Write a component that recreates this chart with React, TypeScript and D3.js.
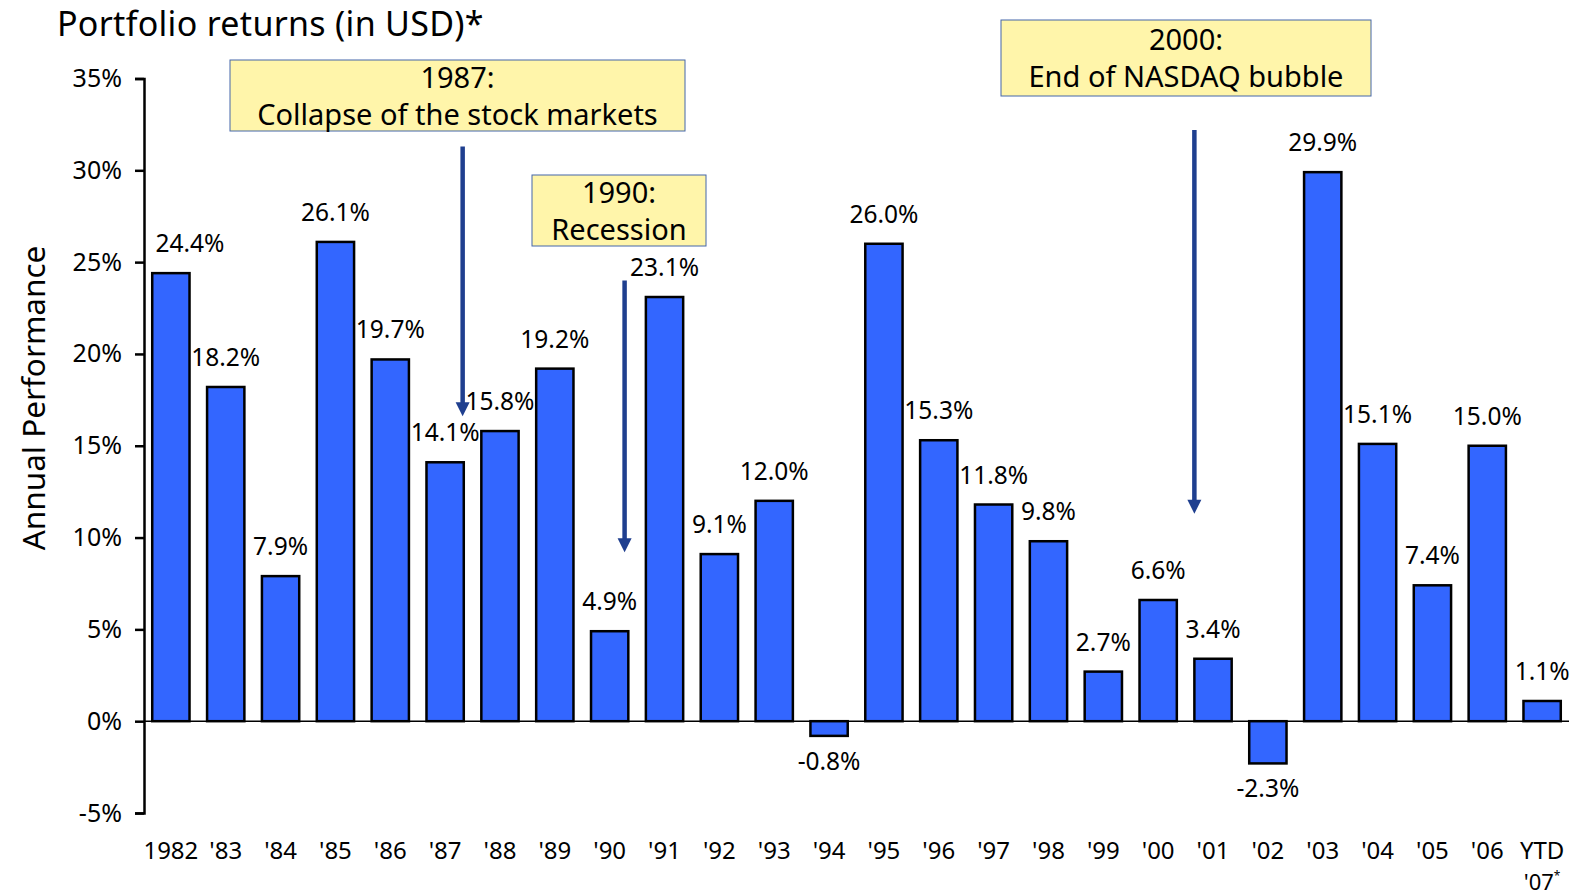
import React, { useRef, useEffect } from "react";
import * as d3 from "d3";

export const years = [
  "1982", "'83", "'84", "'85", "'86", "'87", "'88", "'89", "'90", "'91",
  "'92", "'93", "'94", "'95", "'96", "'97", "'98", "'99", "'00", "'01",
  "'02", "'03", "'04", "'05", "'06", "YTD",
];

export const returns = [
  24.4, 18.2, 7.9, 26.1, 19.7, 14.1, 15.8, 19.2, 4.9, 23.1, 9.1, 12.0, -0.8,
  26.0, 15.3, 11.8, 9.8, 2.7, 6.6, 3.4, -2.3, 29.9, 15.1, 7.4, 15.0, 1.1,
];

export const yTicks = [-5, 0, 5, 10, 15, 20, 25, 30, 35];

// annotation: which bar the arrow sits on, and where it starts / ends (in %)
export const events = [
  { year: "'87", lines: ["1987:", "Collapse of the stock markets"], from: 31.3, to: 16.6, at: 0.97 },
  { year: "'90", lines: ["1990:", "Recession"], from: 24.0, to: 9.2, at: 0.9 },
  { year: "'01", lines: ["2000:", "End of NASDAQ bubble"], from: 32.2, to: 11.3, at: 0.0 },
];

const FONT = "'Noto Sans', 'Open Sans', sans-serif";

const App = () => {
  const ref = useRef<SVGSVGElement>(null);

  useEffect(() => {
    document.body.style.margin = "0";
    const width = 1571;
    const height = 896;

    const x = d3
      .scaleBand()
      .domain(years)
      .range([144, 1569])
      .paddingInner(0.32)
      .paddingOuter(0.15);

    const y = d3.scaleLinear().domain([-5, 35]).range([813, 78.5]);

    const svg = d3
      .select(ref.current)
      .attr("width", width)
      .attr("height", height)
      .style("font-family", FONT);

    svg.selectAll("*").remove();

    // title
    svg
      .append("text")
      .attr("x", 57)
      .attr("y", 36)
      .style("font-size", "34px")
      .style("letter-spacing", "0.3px")
      .text("Portfolio returns (in USD)*");

    // y label
    svg
      .append("text")
      .attr("transform", `translate(45, 398) rotate(-90)`)
      .attr("text-anchor", "middle")
      .style("font-size", "31.5px")
      .text("Annual Performance");

    // y axis
    const yAxis = svg
      .append("g")
      .attr("transform", "translate(144,0)")
      .call(
        d3
          .axisLeft(y)
          .tickValues(yTicks)
          .tickSize(9)
          .tickPadding(13)
          .tickFormat((d) => `${d}%`)
      );
    yAxis.select(".domain").attr("stroke", "#000").attr("stroke-width", 2.5);
    yAxis.selectAll(".tick line").attr("stroke", "#000").attr("stroke-width", 2.5);
    yAxis
      .selectAll(".tick text")
      .attr("fill", "#000")
      .style("font-size", "25px")
      .style("font-family", FONT);

    // bars
    svg
      .append("g")
      .selectAll("rect")
      .data(returns)
      .enter()
      .append("rect")
      .attr("x", (d, i) => x(years[i])!)
      .attr("width", x.bandwidth())
      .attr("y", (d) => y(Math.max(0, d)))
      .attr("height", (d) => Math.abs(y(d) - y(0)))
      .attr("fill", "#3366FF")
      .attr("stroke", "#000")
      .attr("stroke-width", 2.5);

    // zero line
    svg
      .append("line")
      .attr("x1", 144)
      .attr("x2", 1569)
      .attr("y1", y(0))
      .attr("y2", y(0))
      .attr("stroke", "#000")
      .attr("stroke-width", 1.5);

    // value labels (kept clear of the y axis)
    svg
      .append("g")
      .selectAll("text")
      .data(returns)
      .enter()
      .append("text")
      .attr("x", (d, i) => Math.max(x(years[i])! + x.bandwidth() / 2, 190))
      .attr("y", (d) => (d >= 0 ? y(d) - 21 : y(d) + 34))
      .attr("text-anchor", "middle")
      .style("font-size", "24.5px")
      .text((d) => `${d.toFixed(1)}%`);

    // category labels
    const xl = svg.append("g");
    xl.selectAll("text")
      .data(years)
      .enter()
      .append("text")
      .attr("x", (d) => x(d)! + x.bandwidth() / 2)
      .attr("y", 859)
      .attr("text-anchor", "middle")
      .style("font-size", "24px")
      .text((d) => d);
    const last = years[years.length - 1];
    const ytd = xl
      .append("text")
      .attr("x", x(last)! + x.bandwidth() / 2)
      .attr("y", 890)
      .attr("text-anchor", "middle")
      .style("font-size", "22px");
    ytd.append("tspan").text("'07");
    ytd.append("tspan").attr("dy", -10).style("font-size", "12px").text("*");

    // arrows
    const arrows = svg.append("g");
    events.forEach((e) => {
      const ax = x(e.year)! + x.bandwidth() * e.at;
      arrows
        .append("line")
        .attr("x1", ax)
        .attr("x2", ax)
        .attr("y1", y(e.from))
        .attr("y2", y(e.to) - 12)
        .attr("stroke", "#1F3F8F")
        .attr("stroke-width", 4.5);
      arrows
        .append("path")
        .attr(
          "d",
          `M${ax - 7},${y(e.to) - 14} L${ax + 7},${y(e.to) - 14} L${ax},${y(e.to)} Z`
        )
        .attr("fill", "#1F3F8F");
    });

    // annotation boxes
    const boxes = [
      { x: 230, y: 60, w: 455, h: 71 },
      { x: 532, y: 175, w: 174, h: 71 },
      { x: 1001, y: 20, w: 370, h: 76 },
    ];
    events.forEach((e, i) => {
      const b = boxes[i];
      const g = svg.append("g");
      g.append("rect")
        .attr("x", b.x)
        .attr("y", b.y)
        .attr("width", b.w)
        .attr("height", b.h)
        .attr("fill", "#FFF5AA")
        .attr("stroke", "#4466AA")
        .attr("stroke-width", 1);
      e.lines.forEach((t, j) => {
        g.append("text")
          .attr("x", b.x + b.w / 2)
          .attr("y", b.y + b.h / 2 - 8 + j * 37)
          .attr("text-anchor", "middle")
          .style("font-size", "29px")
          .text(t);
      });
    });
  }, []);

  return <svg ref={ref} style={{ display: "block" }}></svg>;
};

export default App;
